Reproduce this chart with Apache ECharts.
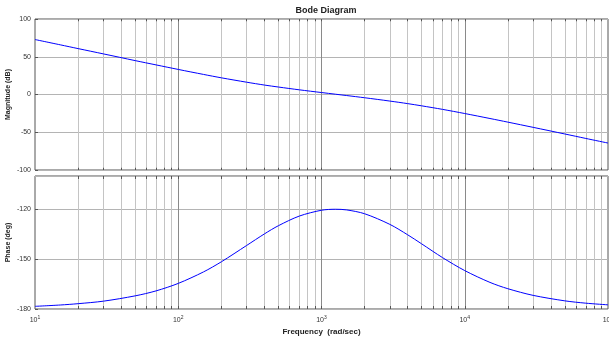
<!DOCTYPE html>
<html>
<head>
<meta charset="utf-8">
<script src="https://cdn.jsdelivr.net/npm/echarts@6/dist/echarts.min.js"></script>
<style>
html, body { margin: 0; padding: 0; background: #fff; }
#chart { width: 609px; height: 343px; }
</style>
</head>
<body>
<div id="chart"></div>
<script>
// frequencies (rad/sec)
var freq = [10, 15, 20, 30, 50, 70, 100, 150, 200, 300, 400, 500, 700, 1000, 1250, 1500, 2000, 3000, 4000, 5000, 7000, 10000, 15000, 20000, 30000, 50000, 70000, 100000];
// magnitude (dB)
var magDb = [72.8, 65.8, 60.8, 53.8, 44.9, 39.2, 33.2, 26.6, 22.1, 16.3, 12.5, 9.9, 6.2, 2.6, 0.4, -1.4, -4.3, -8.7, -12.1, -15.0, -19.7, -25.2, -31.8, -36.6, -43.5, -52.3, -58.2, -64.3];
// phase (deg)
var phaseDeg = [-178.4, -177.6, -176.8, -175.3, -172.1, -169.1, -164.6, -157.7, -151.6, -141.8, -134.8, -129.9, -124.1, -120.6, -120.0, -120.4, -122.7, -129.1, -135.4, -140.8, -149.1, -156.9, -164.0, -167.8, -171.8, -175.1, -176.5, -177.5];

var magTicks = [-100, -50, 0, 50, 100];
var phaseTicks = [-180, -150, -120];
var decades = [100, 1000, 10000];

// 2..9 x 10^k grid positions
var minorFreqs = [];
for (var d = 1; d <= 4; d++) {
    for (var m = 2; m <= 9; m++) {
        minorFreqs.push(m * Math.pow(10, d));
    }
}
var allGridFreqs = minorFreqs.concat(decades);

var FONT = 'Liberation Sans';

function gridMarks(yMin, yMax, tickLen) {
    var data = [];
    minorFreqs.forEach(function (f) {
        data.push({ xAxis: f, lineStyle: { color: '#c4c4c4', width: 1, type: 'solid' } });
    });
    decades.forEach(function (f) {
        data.push({ xAxis: f, lineStyle: { color: '#8a8a8a', width: 1, type: 'solid' } });
    });
    allGridFreqs.forEach(function (f) {
        data.push([{ coord: [f, yMin], lineStyle: { color: '#555', width: 1, type: 'solid' } }, { coord: [f, yMin + tickLen] }]);
        data.push([{ coord: [f, yMax], lineStyle: { color: '#555', width: 1, type: 'solid' } }, { coord: [f, yMax - tickLen] }]);
    });
    return {
        silent: true,
        symbol: ['none', 'none'],
        label: { show: false },
        animation: false,
        data: data
    };
}

function xLabel(v) {
    var e = Math.round(Math.log(v) / Math.LN10);
    return '{b|10}{s|' + e + '}';
}

var axisLabelStyle = { color: '#333', fontSize: 7, fontFamily: FONT };

var option = {
    animation: false,
    backgroundColor: '#fff',
    title: {
        text: 'Bode Diagram',
        left: 321,
        top: 1,
        textAlign: 'center',
        textStyle: { fontSize: 9, fontWeight: 'bold', fontFamily: FONT, color: '#222' }
    },
    grid: [
        { left: 35, right: 1, top: 19, height: 151, show: true, borderColor: '#555', borderWidth: 1, containLabel: false, outerBoundsMode: 'none' },
        { left: 35, right: 1, top: 176, height: 133, show: true, borderColor: '#555', borderWidth: 1, containLabel: false, outerBoundsMode: 'none' }
    ],
    xAxis: [
        {
            type: 'log', logBase: 10, min: 10, max: 100000, gridIndex: 0,
            axisLine: { show: false },
            axisTick: { show: false },
            axisLabel: { show: false },
            splitLine: { show: false }
        },
        {
            type: 'log', logBase: 10, min: 10, max: 100000, gridIndex: 1,
            name: 'Frequency  (rad/sec)',
            nameLocation: 'middle',
            nameGap: 19,
            nameMoveOverlap: false,
            nameTextStyle: { fontSize: 8, fontWeight: 'bold', fontFamily: FONT, color: '#222' },
            axisLine: { show: false },
            axisTick: { show: false },
            axisLabel: {
                margin: 6,
                formatter: xLabel,
                rich: {
                    b: { fontSize: 7, fontFamily: FONT, color: '#333' },
                    s: { fontSize: 5, fontFamily: FONT, color: '#333', padding: [0, 0, 5, 0] }
                }
            },
            splitLine: { show: false }
        }
    ],
    yAxis: [
        {
            type: 'value', gridIndex: 0, min: magTicks[0], max: magTicks[magTicks.length - 1], interval: 50,
            name: 'Magnitude (dB)',
            nameLocation: 'middle',
            nameRotate: 90,
            nameGap: 23,
            nameMoveOverlap: false,
            nameTextStyle: { fontSize: 7, fontWeight: 'bold', fontFamily: FONT, color: '#222' },
            axisLine: { show: false },
            axisTick: { show: true, inside: true, length: 3, lineStyle: { color: '#555' } },
            axisLabel: Object.assign({ margin: 4 }, axisLabelStyle),
            splitLine: { show: true, lineStyle: { color: '#b4b4b4', width: 1 } }
        },
        {
            type: 'value', gridIndex: 1, min: phaseTicks[0], max: -100, interval: 30,
            name: 'Phase (deg)',
            nameLocation: 'middle',
            nameRotate: 90,
            nameGap: 23,
            nameMoveOverlap: false,
            nameTextStyle: { fontSize: 7, fontWeight: 'bold', fontFamily: FONT, color: '#222' },
            axisLine: { show: false },
            axisTick: { show: true, inside: true, length: 3, lineStyle: { color: '#555' } },
            axisLabel: Object.assign({ margin: 4, showMaxLabel: false }, axisLabelStyle),
            splitLine: { show: true, lineStyle: { color: '#b4b4b4', width: 1 } }
        }
    ],
    series: [
        {
            type: 'line',
            xAxisIndex: 0, yAxisIndex: 0,
            data: freq.map(function (f, i) { return [f, magDb[i]]; }),
            showSymbol: false,
            smooth: 0.3,
            lineStyle: { color: '#0000ff', width: 1 },
            markLine: gridMarks(-100, 100, 3),
            z: 5
        },
        {
            type: 'line',
            xAxisIndex: 1, yAxisIndex: 1,
            data: freq.map(function (f, i) { return [f, phaseDeg[i]]; }),
            showSymbol: false,
            smooth: 0.3,
            lineStyle: { color: '#0000ff', width: 1 },
            markLine: gridMarks(-180, -100, 1.8),
            z: 5
        }
    ]
};

var myChart = echarts.init(document.getElementById('chart'), null, { renderer: 'canvas' });
myChart.setOption(option, true);
</script>
</body>
</html>
